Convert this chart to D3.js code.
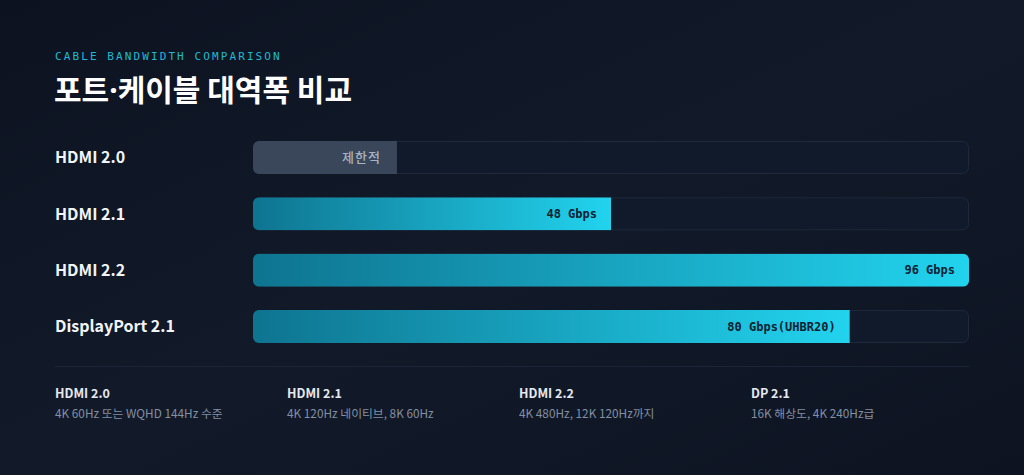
<!DOCTYPE html>
<html>
<head>
<meta charset="utf-8">
<script src="https://cdn.jsdelivr.net/npm/d3@7"></script>
<style>
html,body{margin:0;padding:0;background:#0f1523;}
svg{display:block;}
</style>
</head>
<body>
<svg id="chart" width="1024" height="475"></svg>
<script>
// ---- data ----
const categories = ["HDMI 2.0", "HDMI 2.1", "HDMI 2.2", "DisplayPort 2.1"];
const bandwidth = [19.3, 48, 96, 80];            // Gbps (HDMI 2.0 shown as limited)
const barLabels = ["제한적", "48 Gbps", "96 Gbps", "80 Gbps(UHBR20)"];
const limited = [true, false, false, false];
const axisMax = 96;
const noteTitles = ["HDMI 2.0", "HDMI 2.1", "HDMI 2.2", "DP 2.1"];
const noteTexts = ["4K 60Hz 또는 WQHD 144Hz 수준", "4K 120Hz 네이티브, 8K 60Hz", "4K 480Hz, 12K 120Hz까지", "16K 해상도, 4K 240Hz급"];
const eyebrow = "CABLE BANDWIDTH COMPARISON";
const titleParts = ["포트", "·", "케이블 대역폭 비교"];

const svg = d3.select("#chart");
const W = 1024, H = 475;
const sans = "'Noto Sans CJK KR','Noto Sans',sans-serif";
const latin = "'Noto Sans','Open Sans',sans-serif";
const mono = "'DejaVu Sans Mono','Liberation Mono',monospace";

const defs = svg.append("defs");
const bg = defs.append("linearGradient").attr("id","bg").attr("x1","0").attr("y1","0").attr("x2","1").attr("y2","1");
bg.append("stop").attr("offset","0").attr("stop-color","#0c1220");
bg.append("stop").attr("offset","0.5").attr("stop-color","#121a29");
bg.append("stop").attr("offset","1").attr("stop-color","#0d1321");
svg.append("rect").attr("width",W).attr("height",H).attr("fill","url(#bg)");

// scales
const x = d3.scaleLinear().domain([0, axisMax]).range([253, 969]);
const y = d3.scaleBand().domain(categories).range([141, 343]).paddingInner(0.414).paddingOuter(0);
const bw = y.bandwidth();

// header
svg.append("text").attr("x",55).attr("y",60).text(eyebrow)
  .attr("font-family",mono).attr("font-size",11).attr("letter-spacing","2.1px").attr("fill","#22b8d4");
const t = svg.append("text").attr("x",54).attr("y",101)
  .attr("font-family",sans).attr("font-weight",700).attr("font-size",30).attr("fill","#ffffff");
titleParts.forEach((p,i)=>{
  t.append("tspan").text(p).attr("font-family", i===1 ? latin : sans);
});

categories.forEach((c,i)=>{
  const gid = "g"+i;
  const g = defs.append("linearGradient").attr("id",gid).attr("gradientUnits","userSpaceOnUse")
    .attr("x1",x(0)).attr("x2",x(bandwidth[i])).attr("y1",0).attr("y2",0);
  g.append("stop").attr("offset","0").attr("stop-color","#0e7490");
  g.append("stop").attr("offset","1").attr("stop-color","#22d3ee");
  defs.append("clipPath").attr("id","c"+i).append("rect")
    .attr("x",x(0)).attr("y",y(c)).attr("width",x(axisMax)-x(0)).attr("height",bw).attr("rx",6);
});

const rows = svg.selectAll("g.row").data(categories).join("g").attr("class","row");

rows.append("text").attr("x",55).attr("y",d=>y(d)+bw/2).attr("dy","0.36em")
  .text(d=>d).attr("font-family",sans).attr("font-weight",700).attr("font-size",16).attr("fill","#f1f5f9");

rows.append("rect").attr("x",x(0)+0.5).attr("y",d=>y(d)+0.5)
  .attr("width",x(axisMax)-x(0)-1).attr("height",bw-1).attr("rx",6)
  .attr("fill","#111a2b").attr("stroke","#1e293b").attr("stroke-width",1);

rows.append("rect").attr("clip-path",(d,i)=>`url(#c${i})`)
  .attr("x",x(0)).attr("y",d=>y(d))
  .attr("width",(d,i)=>x(bandwidth[i])-x(0)).attr("height",bw)
  .attr("fill",(d,i)=>limited[i] ? "#3a4659" : `url(#g${i})`);

rows.append("text").attr("x",(d,i)=>x(bandwidth[i])-(limited[i]?16:14)).attr("y",d=>y(d)+bw/2).attr("dy","0.36em")
  .attr("text-anchor","end").text((d,i)=>barLabels[i])
  .attr("font-family",(d,i)=>limited[i]?sans:mono)
  .attr("font-weight",(d,i)=>limited[i]?500:700)
  .attr("font-size",(d,i)=>limited[i]?13:12)
  .attr("letter-spacing",(d,i)=>limited[i]?"1px":"0px")
  .attr("fill",(d,i)=>limited[i]?"#a8b3c2":"#0b2233");

// divider
svg.append("line").attr("x1",55).attr("x2",969).attr("y1",366.5).attr("y2",366.5).attr("stroke","#1c2536");

// notes
const nx = d3.scalePoint().domain(noteTitles).range([55, 751]);
const notes = svg.selectAll("g.note").data(noteTitles).join("g").attr("class","note");
notes.append("text").attr("x",d=>nx(d)).attr("y",398).text(d=>d)
  .attr("font-family",sans).attr("font-weight",700).attr("font-size",12.5).attr("fill","#e5e9f0");
notes.append("text").attr("x",d=>nx(d)).attr("y",418).text((d,i)=>noteTexts[i])
  .attr("font-family",sans).attr("font-size",11.8).attr("fill","#8390a3");
</script>
</body>
</html>
